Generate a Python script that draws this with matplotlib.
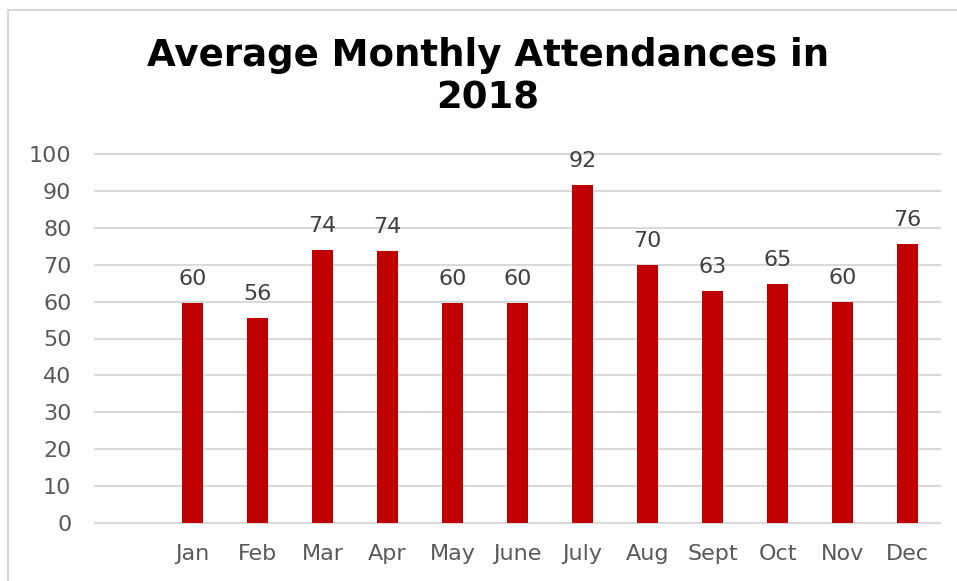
import matplotlib
matplotlib.use("Agg")
import matplotlib.pyplot as plt
from matplotlib.lines import Line2D

months = ["Jan", "Feb", "Mar", "Apr", "May", "June", "July", "Aug", "Sept", "Oct", "Nov", "Dec"]
attendance = [59.7, 55.5, 74.0, 73.8, 59.7, 59.7, 91.6, 69.9, 62.9, 64.9, 59.9, 75.7]
yticks = [0, 10, 20, 30, 40, 50, 60, 70, 80, 90, 100]

W, H = 957, 581
fig = plt.figure(figsize=(W / 100, H / 100), dpi=100)
ax = fig.add_axes([95 / W, 1 - 523 / H, (940 - 95) / W, (523 - 154) / H])

# first slot on the category axis is empty, as in the original
xs = list(range(1, len(months) + 1))
ax.bar(xs, attendance, width=0.31, color="#c00000", zorder=3)

for x, v in zip(xs, attendance):
    ax.annotate(f"{v:.0f}", (x, v), xytext=(0, 10), textcoords="offset points",
                ha="center", va="bottom", fontsize=16, color="#404040")

ax.set_xlim(-0.5, 12.5)
ax.set_ylim(0, 100)
ax.set_yticks(yticks)
ax.set_xticks(xs)
ax.set_xticklabels(months)
ax.tick_params(axis="y", length=0, pad=17, labelsize=16, labelcolor="#595959")
ax.tick_params(axis="x", length=0, pad=15, labelsize=16, labelcolor="#595959")
ax.grid(axis="y", color="#d9d9d9", lw=1.5, zorder=0)
for line in ax.get_ygridlines():
    line.set_clip_on(False)
for s in ax.spines.values():
    s.set_visible(False)

fig.text(488 / W, 1 - 55 / H, "Average Monthly Attendances in", ha="center", va="center",
         fontsize=26.7, fontweight="bold", color="black")
fig.text(488 / W, 1 - 98 / H, "2018", ha="center", va="center",
         fontsize=26.7, fontweight="bold", color="black")

# chart frame (only top and left edges are visible in the crop)
fig.add_artist(Line2D([8 / W, 8 / W], [0, 1 - 10 / H], color="#d9d9d9", lw=1.5))
fig.add_artist(Line2D([8 / W, 1], [1 - 10 / H, 1 - 10 / H], color="#d9d9d9", lw=1.5))

fig.savefig("out.png", dpi=100)
